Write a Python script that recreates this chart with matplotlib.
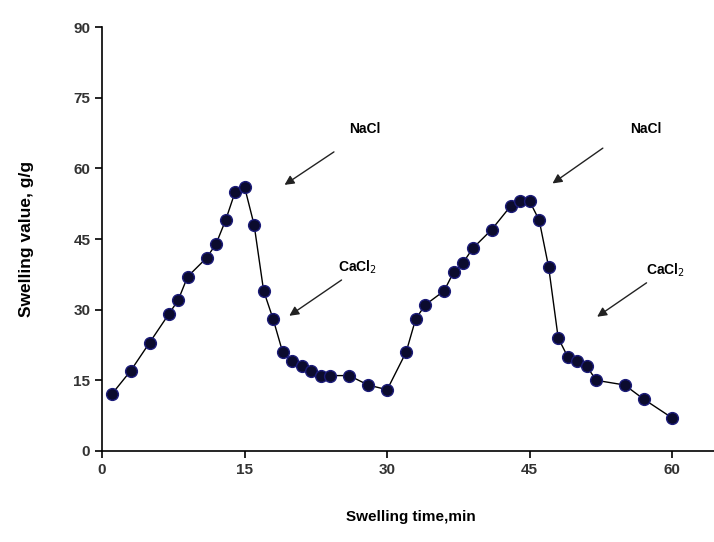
import matplotlib
matplotlib.use("Agg")
import matplotlib.pyplot as plt

plt.rcParams['font.family'] = ['Liberation Sans Narrow', 'Liberation Sans', 'DejaVu Sans']

# swelling time (min) and swelling value (g/g)
time = [1, 3, 5, 7, 8, 9, 11, 12, 13, 14, 15, 16, 17, 18, 19, 20, 21, 22, 23, 24,
        26, 28, 30, 32, 33, 34, 36, 37, 38, 39, 41, 43, 44, 45, 46, 47, 48, 49, 50,
        51, 52, 55, 57, 60]
swelling = [12, 17, 23, 29, 32, 37, 41, 44, 49, 55, 56, 48, 34, 28, 21, 19, 18, 17, 16, 16,
            16, 14, 13, 21, 28, 31, 34, 38, 40, 43, 47, 52, 53, 53, 49, 39, 24, 20, 19,
            18, 15, 14, 11, 7]

# salt annotations: label, text pos, arrow tail, arrow head
notes = [
    ("NaCl", (27.6, 68.3), (24.4, 63.5), (19.2, 56.5)),
    ("CaCl$_2$", (26.9, 39.1), (25.2, 36.3), (19.7, 28.7)),
    ("NaCl", (57.2, 68.3), (52.7, 64.3), (47.4, 56.8)),
    ("CaCl$_2$", (59.3, 38.4), (57.3, 35.7), (52.1, 28.5)),
]

fig = plt.figure(figsize=(7.14, 5.42), dpi=100)
ax = fig.add_axes([0.143, 0.168, 0.865, 0.782])

ax.plot(time, swelling, color='black', linewidth=1.0, marker='o', markersize=8.5,
        markerfacecolor='#0b0b2e', markeredgecolor='#1c1c7a', markeredgewidth=1.0)

for label, tpos, tail, head in notes:
    ax.text(tpos[0], tpos[1], label, fontsize=10, fontweight='bold', ha='center', va='center')
    ax.annotate('', xy=head, xytext=tail,
                arrowprops=dict(arrowstyle='-|>', color='#222222', lw=1.0,
                                mutation_scale=14, shrinkA=0, shrinkB=0))

ax.set_xlim(0, 65)
ax.set_ylim(0, 90)
ax.set_xticks([0, 15, 30, 45, 60])
ax.set_yticks([0, 15, 30, 45, 60, 75, 90])
ax.spines['top'].set_visible(False)
ax.spines['right'].set_visible(False)
ax.spines['left'].set_linewidth(1.2)
ax.spines['bottom'].set_linewidth(1.2)
ax.tick_params(direction='out', length=5, width=1.2, labelsize=11, colors='black',
               labelcolor='#333333')
for lab in ax.get_xticklabels() + ax.get_yticklabels():
    lab.set_fontweight('bold')

ax.set_xlabel('Swelling time,min', fontsize=11, fontweight='bold', labelpad=24)
ax.set_ylabel('Swelling value, g/g', fontsize=12.5, fontweight='bold', labelpad=28)

fig.savefig('out.png', dpi=100)
